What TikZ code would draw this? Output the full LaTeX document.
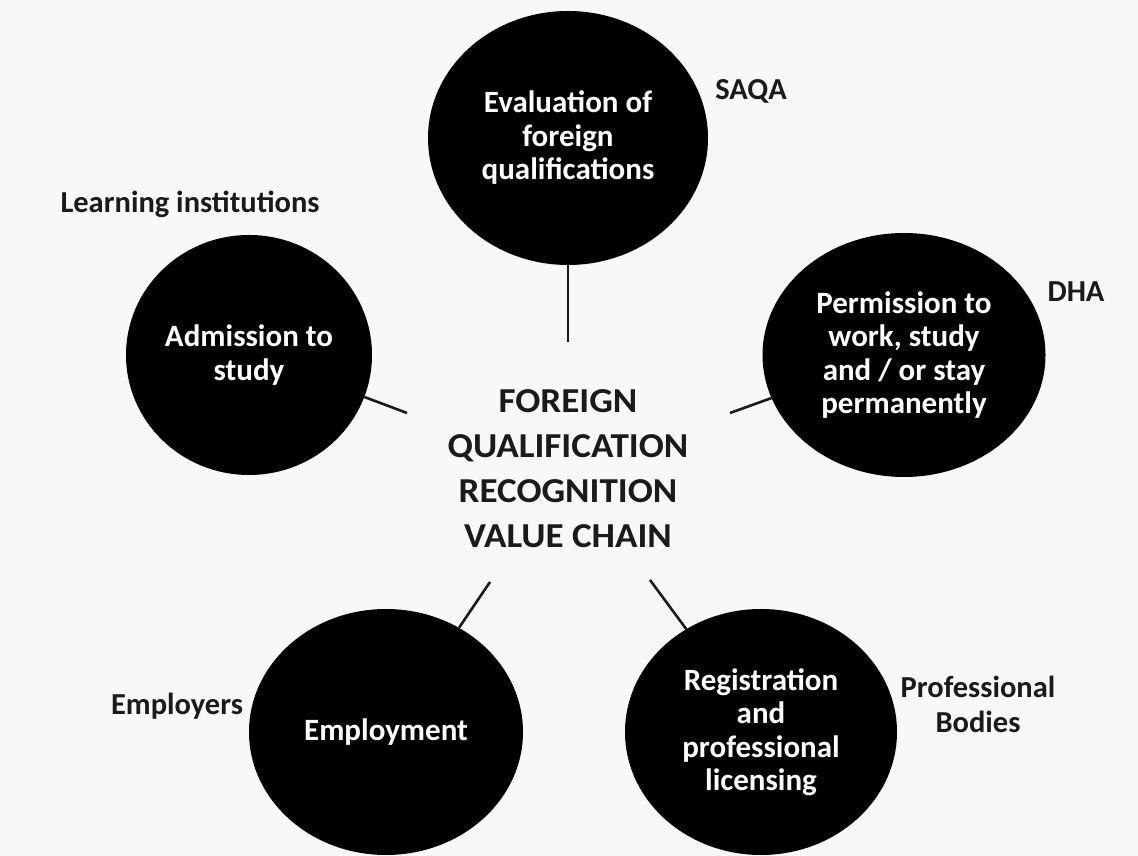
\documentclass[tikz,border=0pt]{standalone}
\usepackage{fontspec}
\setmainfont{Carlito}
\newfontfamily\wide[FakeStretch=1.06]{Carlito}
\usetikzlibrary{shapes.geometric}
\definecolor{paper}{HTML}{F8F8F8}
\definecolor{ink}{HTML}{1A1A1A}
\begin{document}
\begin{tikzpicture}[x=1pt,y=1pt,
  bub/.style={ellipse, fill=black, draw=none, inner sep=0pt, text=white, align=center,
              font=\fontsize{31}{33.5}\selectfont\bfseries},
  lbl/.style={text=ink, align=center, inner sep=0pt,
              font=\fontsize{30.5}{35}\selectfont\bfseries},
  title/.style={text=ink, align=center, inner sep=0pt,
              font=\wide\fontsize{35}{45}\selectfont\bfseries},
  link/.style={draw=ink, line width=2.6pt},
]
\fill[paper] (0,0) rectangle (1138,856);
\useasboundingbox (0,0) rectangle (1138,856);

% bubbles
\node[bub, minimum width=280, minimum height=254] (eval) at (568,718)
  {Evaluation of\\foreign\\qualifications};
\node[bub, minimum width=246, minimum height=240] (adm) at (249,501)
  {Admission to\\study};
\node[bub, minimum width=283, minimum height=244] (perm) at (904,501)
  {Permission to\\work, study\\and / or stay\\permanently};
\node[bub, minimum width=274, minimum height=246] (emp) at (386,124)
  {Employment};
\node[bub, minimum width=272, minimum height=246] (reg) at (761,124)
  {Registration\\and\\professional\\licensing};

% centre title
\node[title] (core) at (568,387)
  {FOREIGN\\QUALIFICATION\\RECOGNITION\\VALUE CHAIN};

% agency labels
\node[lbl] (saqa) at (751,765) {SAQA};
\node[lbl] (learn) at (190,652) {Learning institutions};
\node[lbl] (dha) at (1076,564) {DHA};
\node[lbl] (prof) at (978,152) {Professional\\Bodies};
\node[lbl] (empl) at (177,150) {Employers};

% connector free ends
\coordinate (e1) at (568,514);
\coordinate (e2) at (407,443);
\coordinate (e3) at (730,443);
\coordinate (e4) at (490,274);
\coordinate (e5) at (650,276);

\draw[link] (eval.south) -- (e1);
\draw[link] (adm.-20) -- (e2);
\draw[link] (perm.-162) -- (e3);
\draw[link] (emp.55) -- (e4);
\draw[link] (reg.126) -- (e5);
\end{tikzpicture}
\end{document}
